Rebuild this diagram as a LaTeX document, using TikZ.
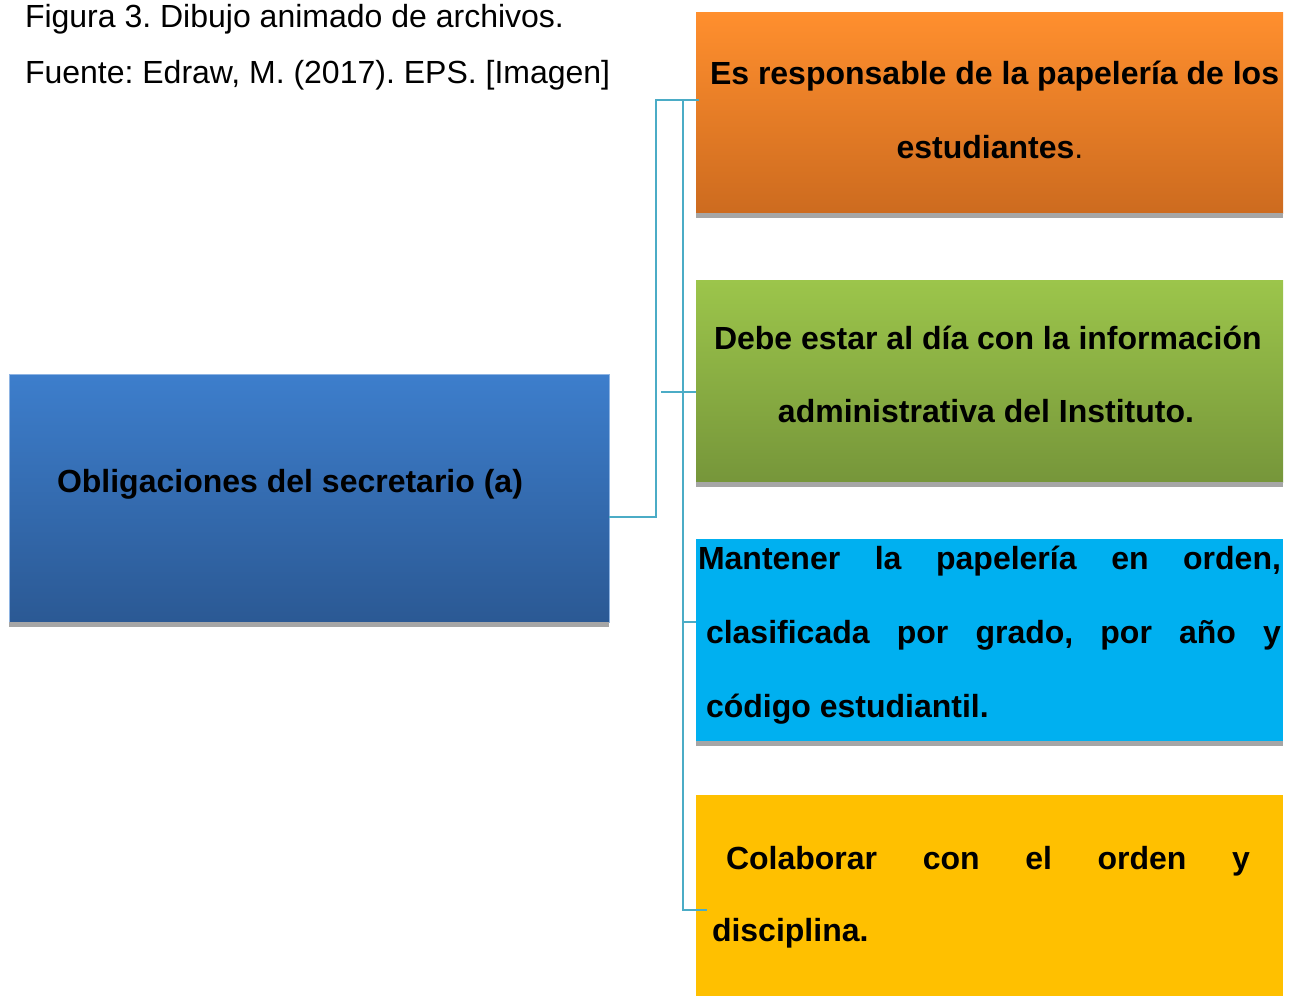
\documentclass[tikz,border=0pt]{standalone}
\usepackage{fontspec}
\setmainfont{Liberation Sans}
\frenchspacing
\definecolor{lineblue}{HTML}{4BACC6}
\definecolor{shadowgray}{HTML}{A6A6A6}
\definecolor{orangetop}{HTML}{FF8F2E}
\definecolor{orangebot}{HTML}{CD6B1F}
\definecolor{greentop}{HTML}{9CC54B}
\definecolor{greenbot}{HTML}{76963A}
\definecolor{bluetop}{HTML}{3D7ECC}
\definecolor{bluebot}{HTML}{2B5994}
\definecolor{blueedge}{HTML}{8EB4E3}
\definecolor{cyanfill}{HTML}{00B0F0}
\definecolor{yellowfill}{HTML}{FFC000}
\begin{document}
\begin{tikzpicture}[x=1pt,y=-1pt,
  box/.style={draw=none, minimum width=587pt, inner sep=0pt, outer sep=0pt, anchor=north west},
  conn/.style={draw=lineblue, line width=2.2pt},
  txt/.style={inner sep=0pt, outer sep=0pt, anchor=base west, font=\fontsize{32}{38}\selectfont\bfseries},
  hdr/.style={inner sep=0pt, outer sep=0pt, anchor=base west, font=\fontsize{32}{38}\selectfont}]
\useasboundingbox (0,0) rectangle (1294,996);

% main box
\node[inner sep=0pt, outer sep=0pt, anchor=north west, minimum width=600pt, minimum height=248pt,
      top color=bluetop, bottom color=bluebot, draw=blueedge, line width=0.8pt] (main) at (9,374) {};
\fill[shadowgray] ([yshift=-5pt]main.south west) rectangle (main.south east);

% right boxes
\node[box, minimum height=201pt, top color=orangetop, bottom color=orangebot] (orange) at (696,12) {};
\fill[shadowgray] ([yshift=-5pt]orange.south west) rectangle (orange.south east);
\node[box, minimum height=202pt, top color=greentop, bottom color=greenbot] (green) at (696,280) {};
\fill[shadowgray] ([yshift=-5pt]green.south west) rectangle (green.south east);
\node[box, minimum height=202pt, fill=cyanfill] (cyan) at (696,539) {};
\fill[shadowgray] ([yshift=-5pt]cyan.south west) rectangle (cyan.south east);
\node[box, minimum height=201pt, fill=yellowfill] (yellow) at (696,795) {};

% connectors
\coordinate (a1) at (656,517);
\coordinate (a2) at (656,100);
\coordinate (b0) at (683,100);
\coordinate (b3) at (683,910);
\coordinate (g0) at (661,392);
\coordinate (c0) at (683,622);
\draw[conn] (main.east |- a1) -- (a1) -- (a2) -- ([xshift=3pt]orange.west |- a2);
\draw[conn] (b0) -- (b3) -- ([xshift=11pt]yellow.west |- b3);
\draw[conn] (g0) -- (green.west |- g0);
\draw[conn] (c0) -- (cyan.west |- c0);

% header
\node[hdr] (h1) at (25,27) {Figura 3. Dibujo animado de archivos.};
\node[hdr] (h2) at (25,83) {Fuente: Edraw, M. (2017). EPS. [Imagen]};

% texts
\node[txt] (mt) at (57,492) {Obligaciones del secretario (a)};

\node[txt] (o1) at (710,84) {Es responsable de la papelería de los};
\node[txt, anchor=base] (o2) at (990,158) {estudiantes\mdseries.};

\node[txt] (g1) at (714,349) {Debe estar al día con la información};
\node[txt, anchor=base] (g2) at (986,422) {administrativa del Instituto.};

\node[txt] (c1) at (698,569) {\makebox[583pt][s]{Mantener la papelería en orden,}};
\node[txt] (c2) at (706,643) {\makebox[575pt][s]{clasificada por grado, por año y}};
\node[txt] (c3) at (706,717) {código estudiantil.};

\node[txt] (y1) at (726,869) {\makebox[524pt][s]{Colaborar con el orden y}};
\node[txt] (y2) at (712,941) {disciplina.};
\end{tikzpicture}
\end{document}
